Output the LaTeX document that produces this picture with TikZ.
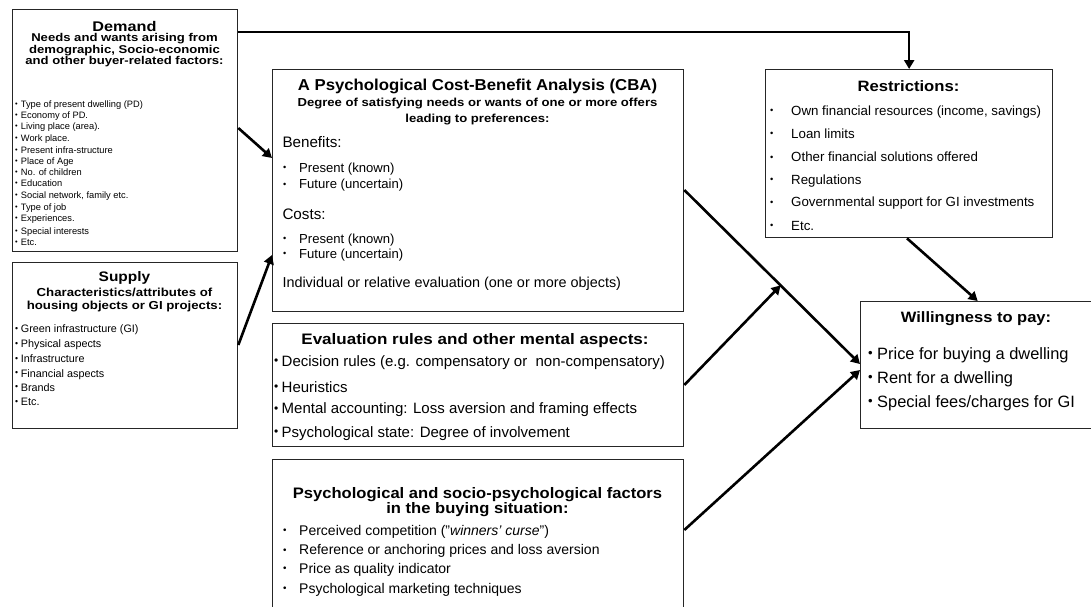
\documentclass[tikz,border=0pt]{standalone}
\usepackage{fontspec}
\usepackage{graphicx}
\setmainfont{Liberation Sans}
\usetikzlibrary{arrows.meta,calc}
\newcommand\mybul[2]{\makebox[#1][l]{\raisebox{0.1em}{\scalebox{#2}{\textbullet}}}}
\tikzset{
  box/.style={draw=black!85, line width=1.3pt, inner sep=0pt, anchor=north west, fill=none},
  arr/.style={line width=2.6pt, -{Triangle[length=9pt,width=10pt]}},
  ttl/.style 2 args={anchor=base, inner sep=0pt, text height={0.74*#1pt}, text depth={0.2*#1pt},
    font=\bfseries\fontsize{#1}{#1}\selectfont\addfontfeature{FakeStretch=#2}},
  itm/.style={anchor=base west, inner sep=0pt, text height={0.74*#1pt}, text depth={0.2*#1pt},
    font=\fontsize{#1}{#1}\selectfont},
}
\begin{document}
\begin{tikzpicture}[x=1pt,y=-1pt]
\useasboundingbox (0,0) rectangle (1091,606);
\clip (0,0) rectangle (1091,606);
\fill[white] (0,0) rectangle (1091,606);

% boxes
\node[box, minimum width=225pt, minimum height=242pt] (demand) at (12,9) {};
\node[box, minimum width=225pt, minimum height=166pt] (supply) at (12,262) {};
\node[box, minimum width=411pt, minimum height=242pt] (cba) at (272,69) {};
\node[box, minimum width=411pt, minimum height=123pt] (eval) at (272,323) {};
\node[box, minimum width=411pt, minimum height=170pt] (psych) at (272,459) {};
\node[box, minimum width=287pt, minimum height=168pt] (restr) at (765,69) {};
\node[box, minimum width=230.5pt, minimum height=127pt] (will) at (860,301) {};

% Demand
\node[ttl={14}{1.16}] (d-t) at (124.5,31) {Demand};
\node[ttl={11.3}{1.16}] (d-s1) at (124.5,41.5) {Needs and wants arising from};
\node[ttl={11.3}{1.16}] (d-s2) at (124.5,53) {demographic, Socio-economic};
\node[ttl={11.3}{1.16}] (d-s3) at (124.5,64.5) {and other buyer-related factors:};
\node[itm=9.3] (d-1) at (15,107.4) {\mybul{5.7pt}{0.8}Type of present dwelling (PD)};
\node[itm=9.3] (d-2) at (15,118.4) {\mybul{5.7pt}{0.8}Economy of PD.};
\node[itm=9.3] (d-3) at (15,129.4) {\mybul{5.7pt}{0.8}Living place (area).};
\node[itm=9.3] (d-4) at (15,141) {\mybul{5.7pt}{0.8}Work place.};
\node[itm=9.3] (d-5) at (15,153.4) {\mybul{5.7pt}{0.8}Present infra-structure};
\node[itm=9.3] (d-6) at (15,164) {\mybul{5.7pt}{0.8}Place of Age};
\node[itm=9.3] (d-7) at (15,175) {\mybul{5.7pt}{0.8}No. of children};
\node[itm=9.3] (d-8) at (15,186.7) {\mybul{5.7pt}{0.8}Education};
\node[itm=9.3] (d-9) at (15,198.4) {\mybul{5.7pt}{0.8}Social network, family etc.};
\node[itm=9.3] (d-10) at (15,210) {\mybul{5.7pt}{0.8}Type of job};
\node[itm=9.3] (d-11) at (15,221) {\mybul{5.7pt}{0.8}Experiences.};
\node[itm=9.3] (d-12) at (15,234.4) {\mybul{5.7pt}{0.8}Special interests};
\node[itm=9.3] (d-13) at (15,245.7) {\mybul{5.7pt}{0.8}Etc.};

% Supply
\node[ttl={13.8}{1.12}] (s-t) at (124.5,281) {Supply};
\node[ttl={11.6}{1.14}] (s-s1) at (124.5,296.7) {Characteristics/attributes of};
\node[ttl={11.6}{1.14}] (s-s2) at (124.5,309.3) {housing objects or GI projects:};
\node[itm=10.8] (s-1) at (15,332.7) {\mybul{5.7pt}{0.8}Green infrastructure (GI)};
\node[itm=10.8] (s-2) at (15,347.7) {\mybul{5.7pt}{0.8}Physical aspects};
\node[itm=10.8] (s-3) at (15,362.7) {\mybul{5.7pt}{0.8}Infrastructure};
\node[itm=10.8] (s-4) at (15,377) {\mybul{5.7pt}{0.8}Financial aspects};
\node[itm=10.8] (s-5) at (15,391) {\mybul{5.7pt}{0.8}Brands};
\node[itm=10.8] (s-6) at (15,405.7) {\mybul{5.7pt}{0.8}Etc.};

% CBA
\node[ttl={15.8}{1.06}] (c-t) at (477.5,90.7) {A Psychological Cost-Benefit Analysis (CBA)};
\node[ttl={11.6}{1.13}] (c-s1) at (477.5,106.7) {Degree of satisfying needs or wants of one or more offers};
\node[ttl={11.6}{1.13}] (c-s2) at (477.5,122.3) {leading to preferences:};
\node[itm=15.2] (c-b) at (282.3,147) {Benefits:};
\node[itm=13.1] (c-b1) at (283,172) {\mybul{16pt}{0.7}Present (known)};
\node[itm=13.1] (c-b2) at (283,188.5) {\mybul{16pt}{0.7}Future (uncertain)};
\node[itm=15.2] (c-c) at (282.3,219) {Costs:};
\node[itm=13.1] (c-c1) at (283,243.3) {\mybul{16pt}{0.7}Present (known)};
\node[itm=13.1] (c-c2) at (283,258.3) {\mybul{16pt}{0.7}Future (uncertain)};
\node[itm=14.4] (c-i) at (282.3,287.3) {Individual or relative evaluation (one or more objects)};

% Evaluation
\node[ttl={15.2}{1.12}] (e-t) at (475,344) {Evaluation rules and other mental aspects:};
\node[itm=15] (e-1) at (274,366.3) {\mybul{7.5pt}{0.8}Decision rules (e.g. compensatory or\ \ non-compensatory)};
\node[itm=15] (e-2) at (274,392) {\mybul{7.5pt}{0.8}Heuristics};
\node[itm=15] (e-3) at (274,413.5) {\mybul{7.5pt}{0.8}Mental accounting: Loss aversion and framing effects};
\node[itm=15] (e-4) at (274,437) {\mybul{7.5pt}{0.8}Psychological state: Degree of involvement};

% Psych
\node[ttl={15.2}{1.09}] (p-t1) at (477.5,498.3) {Psychological and socio-psychological factors};
\node[ttl={15.2}{1.09}] (p-t2) at (477.5,513.3) {in the buying situation:};
\node[itm=14] (p-1) at (283,535) {\mybul{16pt}{0.7}Perceived competition (”\textit{winners’ curse}”)};
\node[itm=14] (p-2) at (283,554.5) {\mybul{16pt}{0.7}Reference or anchoring prices and loss aversion};
\node[itm=14] (p-3) at (283,573) {\mybul{16pt}{0.7}Price as quality indicator};
\node[itm=14] (p-4) at (283,593) {\mybul{16pt}{0.7}Psychological marketing techniques};

% Restrictions
\node[ttl={15}{1.11}] (r-t) at (908.5,91) {Restrictions:};
\node[itm=13.3] (r-1) at (770,115) {\mybul{21pt}{0.7}Own financial resources (income, savings)};
\node[itm=13.3] (r-2) at (770,138.3) {\mybul{21pt}{0.7}Loan limits};
\node[itm=13.3] (r-3) at (770,161.7) {\mybul{21pt}{0.7}Other financial solutions offered};
\node[itm=13.3] (r-4) at (770,184.3) {\mybul{21pt}{0.7}Regulations};
\node[itm=13.3] (r-5) at (770,206.7) {\mybul{21pt}{0.7}Governmental support for GI investments};
\node[itm=13.3] (r-6) at (770,230) {\mybul{21pt}{0.7}Etc.};

% Willingness
\node[ttl={15}{1.1}] (w-t) at (976,322) {Willingness to pay:};
\node[itm=16.4] (w-1) at (868,359) {\mybul{9pt}{0.8}Price for buying a dwelling};
\node[itm=16.4] (w-2) at (868,383) {\mybul{9pt}{0.8}Rent for a dwelling};
\node[itm=16.4] (w-3) at (868,407) {\mybul{9pt}{0.8}Special fees/charges for GI};

% connectors
\draw[arr] ([yshift=-23pt]demand.north east) -| (restr.north);
\draw[arr] ([yshift=-119pt]demand.north east) -- ([yshift=-89pt]cba.north west);
\draw[arr] ([yshift=-83pt]supply.north east) -- ([yshift=-186pt]cba.north west);
\coordinate (cbaout) at ([yshift=-121pt]cba.north east);
\coordinate (willin) at ([yshift=-63pt]will.north west);
\draw[arr] (cbaout) -- (willin);
\coordinate (meet) at ($(cbaout)!0.548!(willin)$);
\draw[arr] ([yshift=-62pt]eval.north east) -- (meet);
\draw[arr] ([yshift=-71pt]psych.north east) -- ([yshift=-69pt]will.north west);
\draw[arr] ([xshift=-2.2pt]restr.south) -- ([xshift=1.8pt]will.north);
\end{tikzpicture}
\end{document}
